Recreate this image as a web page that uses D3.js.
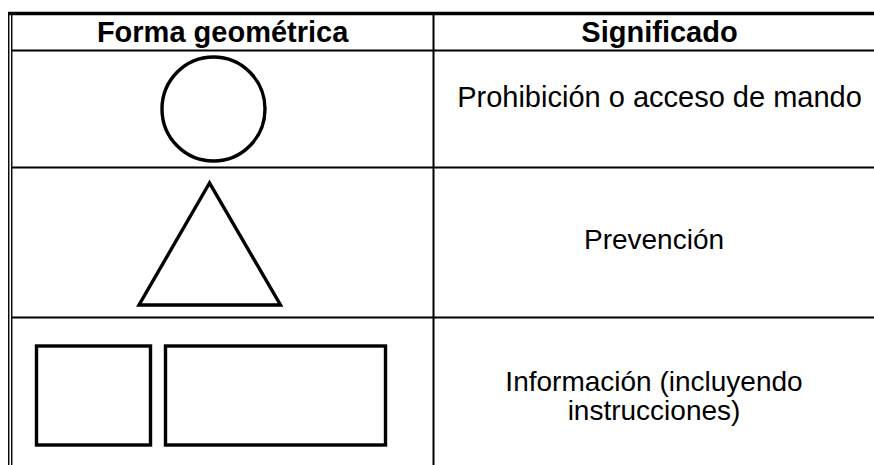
<!DOCTYPE html>
<html>
<head>
<meta charset="utf-8">
<script src="https://cdn.jsdelivr.net/npm/d3@7"></script>
<style>
  html, body { margin: 0; padding: 0; background: #fff; }
  svg { display: block; }
</style>
</head>
<body>
<svg id="chart" width="874" height="465"></svg>
<script>
// Data
const headers = ["Forma geométrica", "Significado"];
const shapeKinds = ["circle", "triangle", "rectangles"];
const meanings = [
  ["Prohibición o acceso de mando"],
  ["Prevención"],
  ["Información (incluyendo", "instrucciones)"]
];

const W = 874, H = 465;
const svg = d3.select("#chart");
const font = "'Liberation Sans', Arial, Helvetica, sans-serif";

// Layout
const leftOuter = 8.75, leftInner = 11.75;
const topY = 13.5;
const headerBottom = 50.5;
const rowBounds = [headerBottom, 167.5, 317.5, H + 2];
const colX = 433.5;

const col1 = d3.scaleLinear().domain([0, 1]).range([leftInner, colX]);

const g = svg.append("g");

// Borders
g.append("line").attr("x1", leftOuter - 0.75).attr("x2", W).attr("y1", topY).attr("y2", topY)
  .attr("stroke", "#000").attr("stroke-width", 3.5);
[leftOuter, leftInner].forEach(x => {
  g.append("line").attr("x1", x).attr("x2", x).attr("y1", topY - 1.5).attr("y2", H)
    .attr("stroke", "#000").attr("stroke-width", 1.4);
});
rowBounds.slice(0, 3).forEach(y => {
  g.append("line").attr("x1", leftInner).attr("x2", W).attr("y1", y).attr("y2", y)
    .attr("stroke", "#000").attr("stroke-width", 2);
});
g.append("line").attr("x1", colX).attr("x2", colX).attr("y1", topY).attr("y2", H)
  .attr("stroke", "#000").attr("stroke-width", 2);

// Headers
const headerX = [col1(0.5), 659.5];
g.selectAll("text.header").data(headers).enter().append("text")
  .attr("class", "header")
  .attr("x", (d, i) => headerX[i])
  .attr("y", 42)
  .attr("text-anchor", "middle")
  .attr("font-family", font).attr("font-weight", "bold").attr("font-size", 29)
  .attr("fill", "#000")
  .text(d => d);

// Meanings
const baseLines = [[107], [249], [391, 420]];
const centerX = [659.5, 654, 654];
const sizes = [29, 28, 28];
meanings.forEach((lines, i) => {
  g.selectAll(null).data(lines).enter().append("text")
    .attr("x", centerX[i])
    .attr("y", (d, j) => baseLines[i][j])
    .attr("text-anchor", "middle")
    .attr("font-family", font).attr("font-size", sizes[i])
    .attr("fill", "#000")
    .text(d => d);
});

// Shapes
const sw = 3.4;
shapeKinds.forEach((kind, i) => {
  if (kind === "circle") {
    g.append("ellipse").attr("cx", 213.5).attr("cy", 109).attr("rx", 51.5).attr("ry", 52)
      .attr("fill", "none").attr("stroke", "#000").attr("stroke-width", sw);
  } else if (kind === "triangle") {
    const pts = [[209.5, 183], [139, 305], [280.5, 305]];
    g.append("path").attr("d", d3.line()(pts) + "Z")
      .attr("fill", "none").attr("stroke", "#000").attr("stroke-width", sw)
      .attr("stroke-linejoin", "miter");
  } else {
    [[36.5, 346, 114, 99], [165.5, 346, 220, 99]].forEach(r => {
      g.append("rect").attr("x", r[0]).attr("y", r[1]).attr("width", r[2]).attr("height", r[3])
        .attr("fill", "none").attr("stroke", "#000").attr("stroke-width", sw);
    });
  }
});
</script>
</body>
</html>
